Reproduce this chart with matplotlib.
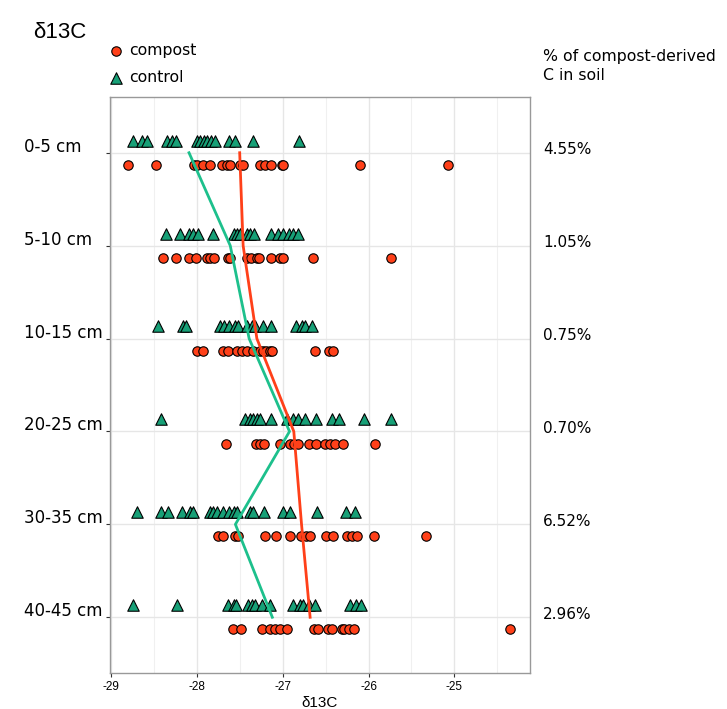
import matplotlib.pyplot as plt
import numpy as np

depths = ['0-5 cm', '5-10 cm', '10-15 cm', '20-25 cm', '30-35 cm', '40-45 cm']
pct_labels = ['4.55%', '1.05%', '0.75%', '0.70%', '6.52%', '2.96%']

compost = [
    [-28.80, -28.47, -28.03, -28.00, -27.93, -27.85, -27.71, -27.65, -27.61, -27.50,
     -27.46, -27.26, -27.21, -27.14, -27.01, -26.99, -26.10, -25.08],
    [-28.39, -28.24, -28.09, -28.01, -27.88, -27.84, -27.80, -27.64, -27.61, -27.42,
     -27.37, -27.30, -27.27, -27.13, -27.03, -27.00, -26.65, -25.74],
    [-28.00, -27.93, -27.69, -27.64, -27.53, -27.47, -27.42, -27.35, -27.26, -27.23,
     -27.19, -27.15, -27.12, -26.62, -26.46, -26.41],
    [-27.66, -27.31, -27.26, -27.22, -27.03, -26.92, -26.87, -26.82, -26.69, -26.61,
     -26.51, -26.45, -26.39, -26.30, -25.93],
    [-27.75, -27.70, -27.55, -27.52, -27.21, -27.08, -26.92, -26.79, -26.73, -26.68,
     -26.49, -26.41, -26.25, -26.19, -26.13, -25.94, -25.33],
    [-27.58, -27.48, -27.24, -27.15, -27.09, -27.03, -26.95, -26.64, -26.59, -26.47,
     -26.42, -26.31, -26.28, -26.23, -26.17, -24.35],
]
control = [
    [-28.74, -28.64, -28.58, -28.35, -28.29, -28.24, -28.00, -27.96, -27.92, -27.88,
     -27.83, -27.79, -27.63, -27.55, -27.35, -26.81],
    [-28.36, -28.19, -28.09, -28.04, -27.99, -27.81, -27.57, -27.53, -27.50, -27.42,
     -27.38, -27.33, -27.13, -27.05, -26.99, -26.93, -26.88, -26.82],
    [-28.45, -28.16, -28.12, -27.73, -27.68, -27.63, -27.55, -27.52, -27.42, -27.36,
     -27.32, -27.23, -27.13, -26.84, -26.78, -26.74, -26.66],
    [-28.42, -27.44, -27.38, -27.34, -27.30, -27.26, -27.13, -26.95, -26.88, -26.82,
     -26.74, -26.61, -26.43, -26.34, -26.05, -25.74],
    [-28.70, -28.42, -28.33, -28.17, -28.08, -28.04, -27.85, -27.81, -27.77, -27.69,
     -27.63, -27.57, -27.53, -27.38, -27.34, -27.22, -27.00, -26.92, -26.60, -26.26,
     -26.16],
    [-28.74, -28.23, -27.64, -27.57, -27.54, -27.40, -27.36, -27.32, -27.24, -27.15,
     -26.88, -26.80, -26.76, -26.69, -26.62, -26.21, -26.15, -26.09],
]
compost_mean = [-27.50, -27.46, -27.30, -26.87, -26.78, -26.68]
control_mean = [-28.09, -27.61, -27.39, -26.92, -27.55, -27.12]

RED = '#FF4019'
GREEN = '#17A077'
GREEN_LINE = '#1DC08C'

fig = plt.figure(figsize=(7.27, 7.09), dpi=100)
ax = fig.add_axes([110 / 727, 1 - 673 / 709, 420 / 727, 576 / 709])

rows = np.arange(1, len(depths) + 1)
off = 0.13
for i, r in enumerate(rows):
    ax.scatter(compost[i], np.full(len(compost[i]), r + off), s=46, marker='o',
               facecolor=RED, edgecolor='black', linewidth=0.8, zorder=3,
               label='compost' if i == 0 else None)
    ax.scatter(control[i], np.full(len(control[i]), r - off), s=68, marker='^',
               facecolor=GREEN, edgecolor='black', linewidth=0.8, zorder=3,
               label='control' if i == 0 else None)

ax.plot(control_mean, rows, color=GREEN_LINE, lw=2, zorder=4)
ax.plot(compost_mean, rows, color=RED, lw=2, zorder=4)

ax.set_xlim(-29.01, -24.12)
ax.set_ylim(6.6, 0.4)
ax.set_xticks([-29, -28, -27, -26, -25])
ax.set_xticklabels(['-29', '-28', '-27', '-26', '-25'], fontsize=8.5,
                   family='Liberation Sans')
ax.set_xticks(np.arange(-28.5, -24.0, 1.0), minor=True)
ax.set_yticks(rows)
ax.set_yticklabels([])
ax.grid(True, which='major', color='#E6E6E6', lw=1.0, zorder=0)
ax.grid(True, which='minor', axis='x', color='#F0F0F0', lw=0.8, zorder=0)
ax.tick_params(axis='both', which='major', length=3, color='#333333', pad=3)
ax.tick_params(axis='x', which='minor', length=0)
for sp in ax.spines.values():
    sp.set_color('#999999')
    sp.set_linewidth(1.0)
ax.set_axisbelow(True)
ax.set_xlabel('δ13C', fontsize=11, family='Liberation Sans', labelpad=2)

# depth labels on the left, percentages on the right
for i, r in enumerate(rows):
    ax.annotate(depths[i], xy=(0, r), xycoords=('figure fraction', 'data'),
                xytext=(24, -3), textcoords='offset pixels',
                ha='left', va='bottom', fontsize=12, family='DejaVu Sans')
    ax.annotate(pct_labels[i], xy=(1, r), xycoords=('axes fraction', 'data'),
                xytext=(13, 3), textcoords='offset pixels',
                ha='left', va='center', fontsize=11, family='DejaVu Sans')

fig.text(543 / 727, 1 - 49 / 709, '% of compost-derived\nC in soil', ha='left',
         va='top', fontsize=11.3, family='DejaVu Sans', linespacing=1.3)
fig.text(33 / 727, 1 - 33 / 709, 'δ13C', ha='left', va='center', fontsize=16,
         family='Liberation Sans')

leg = ax.legend(loc='upper left', bbox_to_anchor=(100 / 727, 1 - 37 / 709),
                bbox_transform=fig.transFigure, frameon=False,
                handletextpad=0.25, labelspacing=0.75, borderaxespad=0,
                handlelength=1.2, prop={'family': 'DejaVu Sans', 'size': 11.3})

fig.savefig('out.png', dpi=100, facecolor='white')
